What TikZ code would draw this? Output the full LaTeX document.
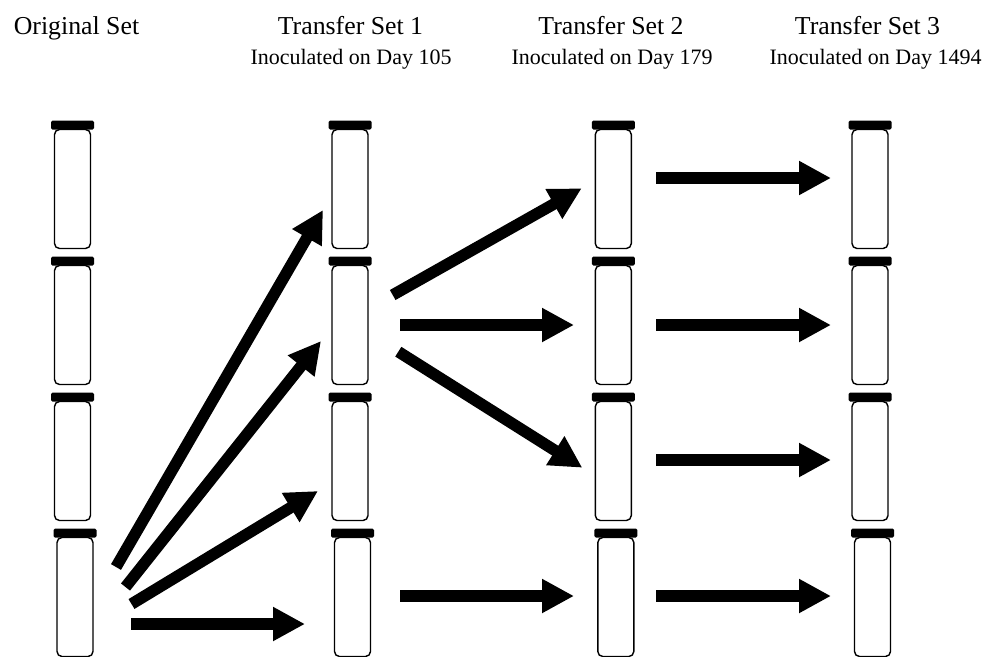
\documentclass[tikz,border=0pt]{standalone}
\usepackage{fontspec}
\setmainfont{Liberation Serif}
\usetikzlibrary{positioning,arrows.meta}
\tikzset{
  vialbody/.style={draw,line width=1.4pt,rounded corners=5pt,minimum width=36pt,minimum height=119pt,inner sep=0pt,outer sep=0pt},
  vialcap/.style={fill=black,rounded corners=1.5pt,minimum width=43pt,minimum height=9pt,inner sep=0pt,outer sep=0pt},
  bigarrow/.style={line width=11.5pt,-{Triangle[length=32pt,width=32pt]}},
  settitle/.style={anchor=base,font=\fontsize{25.8}{30}\selectfont},
  setday/.style={anchor=base,font=\fontsize{22}{24}\selectfont}
}
\begin{document}
\begin{tikzpicture}[x=1pt,y=-1pt]
  \useasboundingbox (0,0) rectangle (984,656);
  \node[settitle] (orig) at (76.5,34) {Original Set};
  \node[settitle] (title1) at (350.5,34) {Transfer Set 1};
  \node[settitle] (title2) at (611,34) {Transfer Set 2};
  \node[settitle] (title3) at (867.5,34) {Transfer Set 3};
  \node[setday] (day1) at (351,64) {Inoculated on Day 105};
  \node[setday] (day2) at (612,64) {Inoculated on Day 179};
  \node[setday] (day3) at (875.5,64) {Inoculated on Day 1494};
  % vials, the bottom row sits a little to the right
  \foreach \c/\x in {1/72.5,2/350,3/613.3,4/870} {
    \foreach \r/\y/\dx in {1/189/0,2/325/0,3/461/0,4/597/2.5} {
      \node[vialbody] (vial\c\r) at (\x+\dx,\y) {};
      \node[vialcap,above=0pt of vial\c\r] (cap\c\r) {};
    }
  }
  % free arrow ends
  \foreach \n/\x/\y in {a1/116/567,a2/125.5/587,a3/131.5/604,a4/131/624,
                        t1/323/210,t2/321/341,t3/318/491,t4/305/624,
                        b1/392.7/295,b2/400/325,b3/398.3/351.7,b4/400/596,
                        u1/581.7/188.3,u2/574/325,u3/582.3/467.7,u4/574/596,
                        c1/656/178,c2/656/325,c3/656/460,c4/656/596,
                        w1/831/178,w2/831/325,w3/831/460,w4/831/596} {
    \coordinate (\n) at (\x,\y);
  }
  \foreach \i in {1,...,4} {
    \draw[bigarrow] (a\i) -- (t\i);
    \draw[bigarrow] (b\i) -- (u\i);
    \draw[bigarrow] (c\i) -- (w\i);
  }
\end{tikzpicture}
\end{document}
